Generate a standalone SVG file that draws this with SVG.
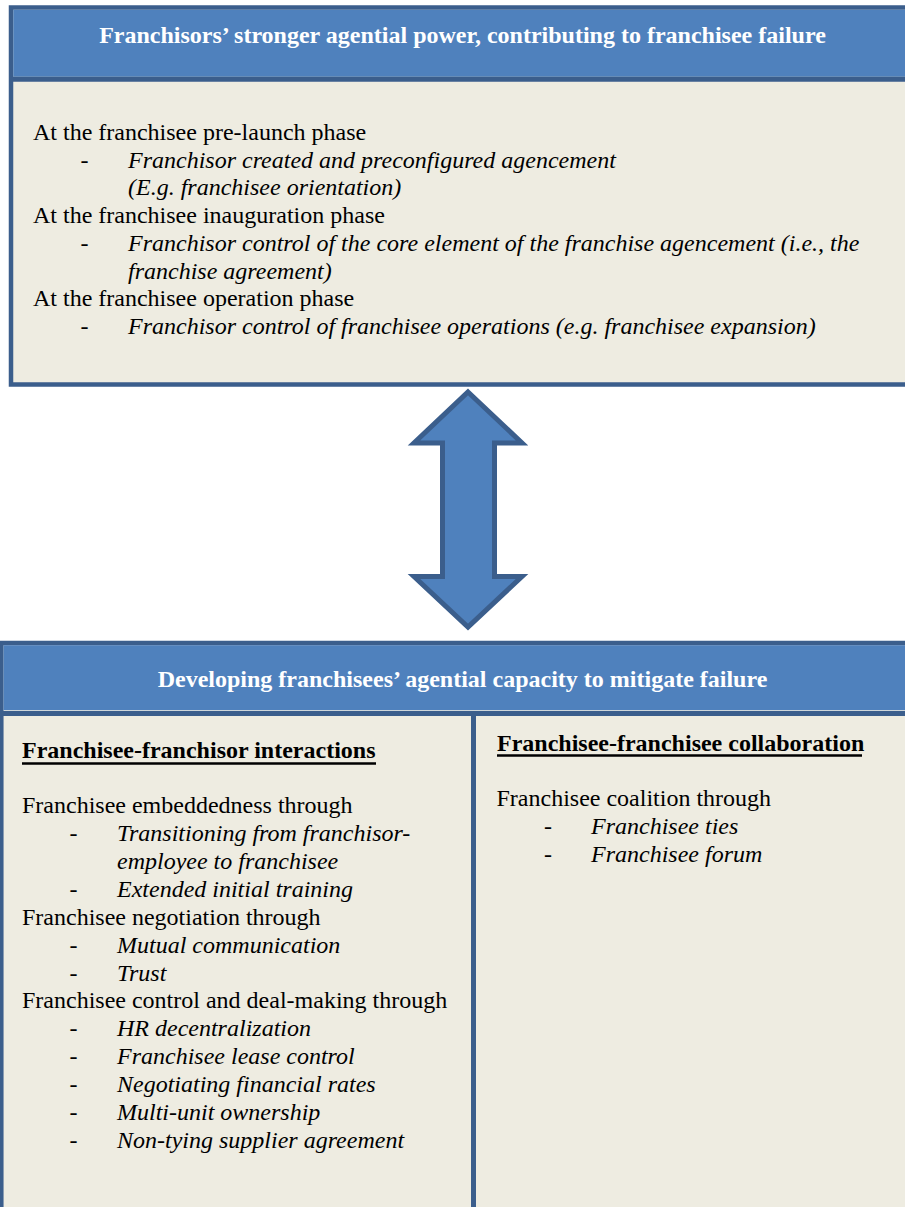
<svg xmlns="http://www.w3.org/2000/svg" width="905" height="1207" viewBox="0 0 905 1207">
<style>
.box{fill:#eeece1;stroke:#3b5e8c;stroke-width:4.5}
.hdr{fill:#4f81bd}
.band{stroke:#3b5e8c;stroke-width:5}
.ht{font-family:"Liberation Serif","Times New Roman",serif;font-size:24px;font-weight:bold;fill:#ffffff;text-anchor:middle}
.t{font-family:"Liberation Serif","Times New Roman",serif;font-size:24px;fill:#000000}
.i{font-style:italic}
.b{font-weight:bold}
.ul{stroke:#000000;stroke-width:2.5}
.arrow{fill:#4f81bd;stroke:#3b5e8c;stroke-width:5;stroke-linejoin:miter}
</style>
<rect x="0" y="0" width="905" height="1207" fill="#ffffff"/>
<g id="top-box">
<rect class="box" x="11" y="7.5" width="910" height="377"/>
<rect class="hdr" x="13.25" y="9.75" width="905" height="67"/>
<line class="band" x1="11" y1="79.2" x2="921" y2="79.2"/>
<text class="ht" x="462.5" y="43">Franchisors’ stronger agential power, contributing to franchisee failure</text>
<text class="t" x="33" y="140">At the franchisee pre-launch phase</text>
<text class="t" x="80.5" y="167.7">-</text>
<text class="t i" x="128" y="167.7">Franchisor created and preconfigured agencement</text>
<text class="t i" x="128" y="195.4">(E.g. franchisee orientation)</text>
<text class="t" x="33" y="223">At the franchisee inauguration phase</text>
<text class="t" x="80.5" y="251">-</text>
<text class="t i" x="128" y="251">Franchisor control of the core element of the franchise agencement (i.e., the</text>
<text class="t i" x="128" y="279">franchise agreement)</text>
<text class="t" x="33" y="306">At the franchisee operation phase</text>
<text class="t" x="80.5" y="334">-</text>
<text class="t i" x="128" y="334">Franchisor control of franchisee operations (e.g. franchisee expansion)</text>
</g>
<g id="connectors">
<polygon class="arrow" points="468,392 522,443 494.5,443 494.5,576.5 522,576.5 468,627 414,576.5 442.5,576.5 442.5,443 414,443"/>
</g>
<g id="bottom-box">
<rect class="box" x="1.3" y="643" width="920" height="580"/>
<rect class="hdr" x="3.5" y="645.2" width="915" height="65"/>
<line class="band" x1="1.3" y1="713.5" x2="921" y2="713.5"/>
<line class="band" x1="473.5" y1="716" x2="473.5" y2="1210"/>
<text class="ht" x="462.5" y="687.3">Developing franchisees’ agential capacity to mitigate failure</text>
</g>
<g id="left-column">
<text class="t b" x="22" y="758.3">Franchisee-franchisor interactions</text>
<line class="ul" x1="22" y1="763.5" x2="376" y2="763.5"/>
<text class="t" x="22" y="813">Franchisee embeddedness through</text>
<text class="t" x="69.5" y="841">-</text>
<text class="t i" x="117" y="841">Transitioning from franchisor-</text>
<text class="t i" x="117" y="869">employee to franchisee</text>
<text class="t" x="69.5" y="897">-</text>
<text class="t i" x="117" y="897">Extended initial training</text>
<text class="t" x="22" y="924.5">Franchisee negotiation through</text>
<text class="t" x="69.5" y="952.5">-</text>
<text class="t i" x="117" y="952.5">Mutual communication</text>
<text class="t" x="69.5" y="980.5">-</text>
<text class="t i" x="117" y="980.5">Trust</text>
<text class="t" x="22" y="1008.3">Franchisee control and deal-making through</text>
<text class="t" x="69.5" y="1036">-</text>
<text class="t i" x="117" y="1036">HR decentralization</text>
<text class="t" x="69.5" y="1064">-</text>
<text class="t i" x="117" y="1064">Franchisee lease control</text>
<text class="t" x="69.5" y="1092">-</text>
<text class="t i" x="117" y="1092">Negotiating financial rates</text>
<text class="t" x="69.5" y="1120">-</text>
<text class="t i" x="117" y="1120">Multi-unit ownership</text>
<text class="t" x="69.5" y="1147.8">-</text>
<text class="t i" x="117" y="1147.8">Non-tying supplier agreement</text>
</g>
<g id="right-column">
<text class="t b" x="497" y="750.7">Franchisee-franchisee collaboration</text>
<line class="ul" x1="497" y1="755.5" x2="862" y2="755.5"/>
<text class="t" x="496.5" y="806">Franchisee coalition through</text>
<text class="t" x="544" y="833.8">-</text>
<text class="t i" x="591" y="833.8">Franchisee ties</text>
<text class="t" x="544" y="861.5">-</text>
<text class="t i" x="591" y="861.5">Franchisee forum</text>
</g>
</svg>
